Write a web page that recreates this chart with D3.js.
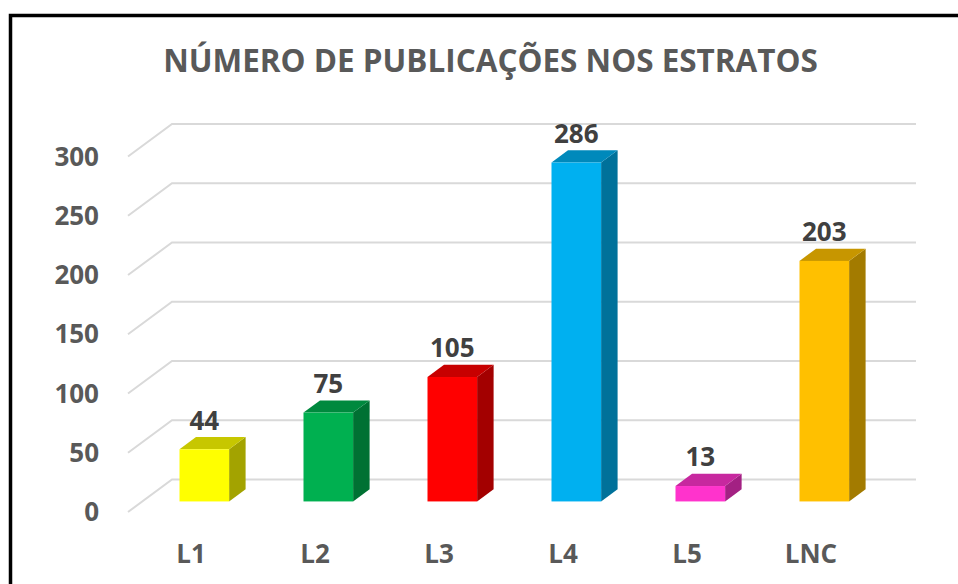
<!DOCTYPE html>
<meta charset="utf-8">
<style>
    body { margin: 0; background: #fff; }
    text { font-family: "Open Sans", sans-serif; font-weight: bold; fill: #595959; }
    .grid { stroke: #d9d9d9; stroke-width: 2; fill: none; }
</style>
<svg width="958" height="584"></svg>
<script src="https://d3js.org/d3.v7.min.js"></script>
<script>
    var title = 'NÚMERO DE PUBLICAÇÕES NOS ESTRATOS';
    var categories = ['L1', 'L2', 'L3', 'L4', 'L5', 'LNC'];
    var values = [44, 75, 105, 286, 13, 203];
    var barColors = ['#ffff00', '#00b050', '#ff0000', '#00b0f0', '#ff33cc', '#ffc000'];
    var yTicks = [0, 50, 100, 150, 200, 250, 300];

    var svg = d3.select('svg');

    // frame: only left and top edges are visible in the picture
    svg.append('path')
        .attr('d', 'M10.5,584V15.5H958')
        .attr('stroke', '#000')
        .attr('stroke-width', 3.5)
        .attr('fill', 'none');

    var x = d3.scaleBand().domain(categories).range([128, 872]), // front edge of the floor
        y = d3.scaleLinear().domain([0, 300]).range([512, 156.5]);

    var depth = { dx: 44, dy: -32.5 }; // floor depth offset (front -> back wall)
    var z0 = 0.325, z1 = 0.7;           // bar front / back position inside the depth

    function shade(c, k) {
        var r = d3.rgb(c);
        return d3.rgb(r.r * k, r.g * k, r.b * k).formatHex();
    }

    // gridlines: diagonal on the side wall + horizontal on the back wall
    var grid = svg.append('g');
    yTicks.forEach(function (t) {
        var yf = y(t);
        grid.append('path')
            .attr('class', 'grid')
            .attr('d', 'M' + x.range()[0] + ',' + yf +
                'L' + (x.range()[0] + depth.dx) + ',' + (yf + depth.dy) +
                'H' + (x.range()[1] + depth.dx));
    });

    // y labels
    svg.append('g').selectAll('text')
        .data(yTicks)
        .enter().append('text')
        .attr('x', 99)
        .attr('y', d => y(d) + 9)
        .attr('text-anchor', 'end')
        .attr('font-size', 26)
        .text(d => d);

    // bars
    var step = x.step(), bw = step * 0.4;
    var bars = svg.append('g').selectAll('g')
        .data(categories.map((c, i) => ({ c: c, v: values[i], col: barColors[i] })))
        .enter().append('g');

    bars.each(function (d) {
        var g = d3.select(this);
        var xl = x(d.c) + step * 0.3 + z0 * depth.dx,
            xr = xl + bw,
            yb = y(0) + z0 * depth.dy,
            yt = y(d.v) + z0 * depth.dy,
            ddx = (z1 - z0) * depth.dx,
            ddy = (z1 - z0) * depth.dy;
        // side face
        g.append('path')
            .attr('d', 'M' + xr + ',' + yt + 'L' + (xr + ddx) + ',' + (yt + ddy) +
                'L' + (xr + ddx) + ',' + (yb + ddy) + 'L' + xr + ',' + yb + 'Z')
            .attr('fill', shade(d.col, 0.64));
        // top face
        g.append('path')
            .attr('d', 'M' + xl + ',' + yt + 'L' + (xl + ddx) + ',' + (yt + ddy) +
                'L' + (xr + ddx) + ',' + (yt + ddy) + 'L' + xr + ',' + yt + 'Z')
            .attr('fill', shade(d.col, 0.78));
        // front face
        g.append('rect')
            .attr('x', xl)
            .attr('y', yt)
            .attr('width', bw)
            .attr('height', yb - yt)
            .attr('fill', d.col);
        // value label
        g.append('text')
            .attr('x', xl + bw / 2)
            .attr('y', yt + ddy - 7.5)
            .attr('text-anchor', 'middle')
            .attr('font-size', 26)
            .attr('fill', '#404040')
            .style('fill', '#404040')
            .text(d.v);
    });

    // category labels
    svg.append('g').selectAll('text')
        .data(categories)
        .enter().append('text')
        .attr('x', d => x(d) + step / 2 + 1)
        .attr('y', 563)
        .attr('text-anchor', 'middle')
        .attr('font-size', 26)
        .text(d => d);

    // title, sized to the width it has in the picture
    var t = svg.append('text')
        .attr('x', 490.5)
        .attr('y', 72)
        .attr('text-anchor', 'middle')
        .attr('font-size', 32)
        .text(title);
    var w = t.node().getComputedTextLength();
    t.attr('font-size', 32 * 655 / w);
</script>
